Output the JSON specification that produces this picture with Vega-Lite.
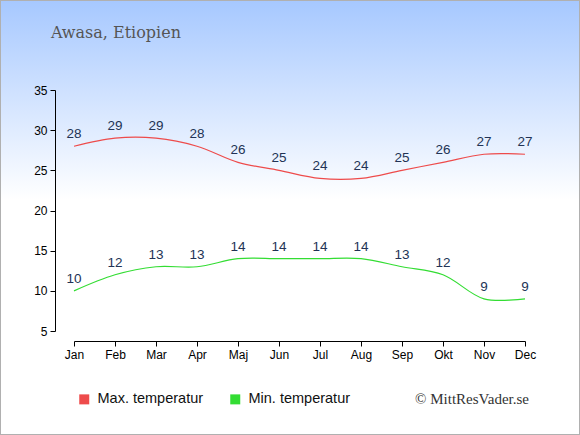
{
  "$schema": "https://vega.github.io/schema/vega-lite/v6.json",
  "width": 580,
  "height": 435,
  "autosize": "none",
  "padding": 0,
  "background": "white",
  "view": {
    "fill": {
      "gradient": "linear",
      "x1": 0, "y1": 0, "x2": 0, "y2": 1,
      "stops": [
        {"offset": 0, "color": "#a6c8ff"},
        {"offset": 0.46, "color": "#ffffff"},
        {"offset": 1, "color": "#ffffff"}
      ]
    },
    "stroke": "#b0b0b0",
    "strokeWidth": 2
  },
  "title": {
    "text": "Awasa, Etiopien",
    "anchor": "start",
    "frame": "group",
    "orient": "top",
    "offset": 0,
    "baseline": "alphabetic",
    "dx": 51,
    "dy": 54,
    "font": "DejaVu Serif",
    "fontSize": 16,
    "fontWeight": "normal",
    "color": "#555555"
  },
  "data": {
    "values": [
      {"month": "Jan", "serie": "Max. temperatur", "temp": 28},
      {"month": "Feb", "serie": "Max. temperatur", "temp": 29},
      {"month": "Mar", "serie": "Max. temperatur", "temp": 29},
      {"month": "Apr", "serie": "Max. temperatur", "temp": 28},
      {"month": "Maj", "serie": "Max. temperatur", "temp": 26},
      {"month": "Jun", "serie": "Max. temperatur", "temp": 25},
      {"month": "Jul", "serie": "Max. temperatur", "temp": 24},
      {"month": "Aug", "serie": "Max. temperatur", "temp": 24},
      {"month": "Sep", "serie": "Max. temperatur", "temp": 25},
      {"month": "Okt", "serie": "Max. temperatur", "temp": 26},
      {"month": "Nov", "serie": "Max. temperatur", "temp": 27},
      {"month": "Dec", "serie": "Max. temperatur", "temp": 27},
      {"month": "Jan", "serie": "Min. temperatur", "temp": 10},
      {"month": "Feb", "serie": "Min. temperatur", "temp": 12},
      {"month": "Mar", "serie": "Min. temperatur", "temp": 13},
      {"month": "Apr", "serie": "Min. temperatur", "temp": 13},
      {"month": "Maj", "serie": "Min. temperatur", "temp": 14},
      {"month": "Jun", "serie": "Min. temperatur", "temp": 14},
      {"month": "Jul", "serie": "Min. temperatur", "temp": 14},
      {"month": "Aug", "serie": "Min. temperatur", "temp": 14},
      {"month": "Sep", "serie": "Min. temperatur", "temp": 13},
      {"month": "Okt", "serie": "Min. temperatur", "temp": 12},
      {"month": "Nov", "serie": "Min. temperatur", "temp": 9},
      {"month": "Dec", "serie": "Min. temperatur", "temp": 9}
    ]
  },
  "encoding": {
    "x": {
      "field": "month",
      "type": "ordinal",
      "sort": null,
      "scale": {"type": "point", "padding": 0, "range": [74, 525]},
      "axis": {
        "title": null,
        "orient": "bottom",
        "offset": -94,
        "labelAngle": 0,
        "domainColor": "#000000",
        "tickColor": "#000000",
        "tickSize": 5,
        "labelColor": "#000000",
        "labelFont": "Liberation Sans",
        "labelFontSize": 12,
        "labelPadding": 3,
        "grid": false
      }
    },
    "y": {
      "field": "temp",
      "type": "quantitative",
      "scale": {"domain": [5, 35], "range": [331, 90], "nice": false, "zero": false},
      "axis": {
        "title": null,
        "orient": "left",
        "offset": -55,
        "values": [5, 10, 15, 20, 25, 30, 35],
        "domainColor": "#000000",
        "tickColor": "#000000",
        "tickSize": 5,
        "labelColor": "#000000",
        "labelFont": "Liberation Sans",
        "labelFontSize": 12,
        "labelPadding": 3,
        "grid": false
      }
    },
    "color": {
      "field": "serie",
      "type": "nominal",
      "scale": {
        "domain": ["Max. temperatur", "Min. temperatur"],
        "range": ["#ee4b4b", "#33dd33"]
      },
      "legend": {
        "title": null,
        "orient": "none",
        "legendX": 77,
        "legendY": 392,
        "direction": "horizontal",
        "symbolType": "square",
        "symbolSize": 100,
        "symbolStrokeWidth": 0,
        "symbolOpacity": 1,
        "labelFont": "Liberation Sans",
        "labelFontSize": 14.5,
        "labelColor": "#111111",
        "labelOffset": 6,
        "columnPadding": 24,
        "padding": 0
      }
    }
  },
  "layer": [
    {
      "mark": {"type": "point", "filled": true, "shape": "square", "size": 0, "opacity": 0}
    },
    {
      "mark": {"type": "line", "interpolate": "catmull-rom", "strokeWidth": 1.2, "color": "#ee5555"}
    },
    {
      "mark": {
        "type": "text",
        "baseline": "alphabetic",
        "align": "center",
        "dy": -8,
        "font": "Liberation Sans",
        "fontSize": 13.5
      },
      "encoding": {
        "text": {"field": "temp", "type": "quantitative"},
        "color": {"value": "#223355"}
      }
    },
    {
      "transform": [
        {"filter": "datum.month == 'Dec' && datum.serie == 'Min. temperatur'"}
      ],
      "mark": {
        "type": "text",
        "align": "right",
        "baseline": "alphabetic",
        "dx": 4,
        "dy": 73,
        "font": "Liberation Serif",
        "fontSize": 15
      },
      "encoding": {
        "y": {"datum": 5},
        "text": {"value": "© MittResVader.se"},
        "color": {"value": "#333333"}
      }
    }
  ]
}
